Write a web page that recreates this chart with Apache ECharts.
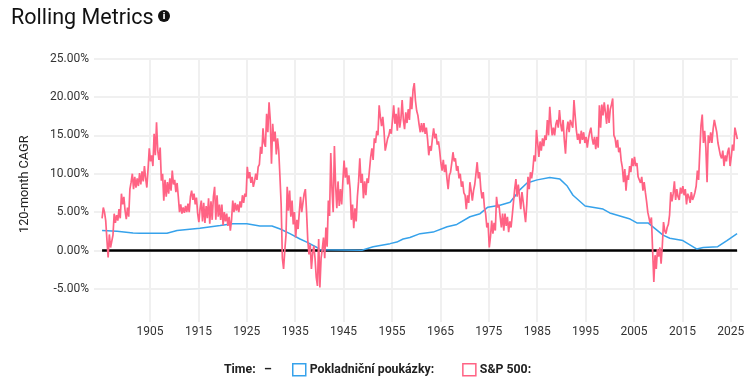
<!DOCTYPE html>
<html><head><meta charset="utf-8">
<style>html,body{margin:0;padding:0;background:#fff}#c{width:753px;height:383px}</style>
<script src="https://cdn.jsdelivr.net/npm/echarts@6/dist/echarts.min.js"></script>
</head><body><div id="c"></div>
<script>
const xTicks = [1905,1915,1925,1935,1945,1955,1965,1975,1985,1995,2005,2015,2025];
const yTicks = [-5,0,5,10,15,20,25];
const billName = 'Pokladniční poukázky:';
const spxName = 'S&P 500:';
const billYears = [1895.1,1898.2,1901.5,1902.9,1908.5,1910.6,1915.3,1919.5,1922.1,1925,1927.7,1930.2,1931.9,1933.9,1936,1937.4,1939.5,1940.1,1948.8,1951.1,1954.6,1956,1957.3,1958.7,1960.8,1963.5,1966.4,1968.4,1971.1,1973.2,1974.8,1977.3,1979.4,1980.8,1981.4,1982.9,1985,1987.6,1989.7,1991.2,1992.4,1994.9,1998.6,2000,2004.2,2005.6,2007.9,2011,2012.4,2015.1,2018,2019.3,2022.3,2024.2,2026.3];
const billValues = [2.6,2.5,2.3,2.25,2.25,2.6,2.9,3.25,3.5,3.5,3.2,3.2,2.8,2.2,1.5,1.1,0.4,0.1,0.03,0.5,0.9,1.1,1.5,1.7,2.2,2.4,3.1,3.4,4.4,4.8,5.65,5.9,6.3,7.4,7.9,8.8,9.2,9.5,9.3,8.4,7.2,5.8,5.4,4.9,4.1,3.6,3.6,2.0,1.6,1.3,0.2,0.4,0.5,1.3,2.2];
const spxStartYear = 1895.1;
const spxYearStep = 0.25;
const spxValues = [
4.2,5.6,5.0,3.9, 1.4,-0.9,2.1,0.4, 0.5,2.0,4.8,3.6, 4.6,3.9,5.4,4.2, 7.4,6.0,7.0,5.2,
4.1,5.6,4.4,8.0, 8.9,10.0,8.0,9.6, 8.2,9.4,8.4,10.1, 8.6,10.3,9.0,11.0, 9.4,8.2,10.6,13.3,
11.6,12.4,11.0,15.2, 12.4,16.7,13.0,11.8, 13.4,9.1,10.0,6.5, 9.2,7.0,8.9,7.4, 9.4,7.8,10.4,8.6,
9.2,7.6,8.8,7.0, 5.0,6.0,4.8,5.6, 4.9,5.8,5.0,6.1, 5.0,7.0,7.8,6.6, 7.4,6.0,6.9,4.8,
3.7,5.5,6.5,3.8, 6.2,3.6,5.8,4.2, 6.8,3.5,6.4,4.0, 7.0,8.3,4.0,7.2, 4.4,6.0,4.0,6.0,
3.3,5.0,3.8,4.8, 3.2,4.4,2.6,4.0, 6.5,5.0,6.2,5.2, 6.0,5.0,6.4,5.6, 7.2,6.2,7.4,7.0,
10.9,9.4,10.2,8.8, 9.6,8.3,9.0,10.0, 9.2,10.9,11.2,13.5, 12.6,15.9,14.0,13.5, 17.8,15.4,19.3,17.0,
11.3,16.5,14.2,15.5, 12.5,14.6,13.0,9.6, 6.0,-1.0,-2.4,0.0, 2.0,8.3,5.2,7.8, 4.4,6.5,3.4,5.0,
1.7,4.0,2.8,5.0, 7.0,5.0,6.2,7.4, 8.0,5.0,1.3,-0.5, 0.8,-2.4,-0.4,0.6, -1.0,-3.5,-4.6,1.5,
-4.8,-1.0,0.2,1.7, -1.0,3.0,0.5,6.5, 4.5,12.7,8.0,5.0, 13.6,8.5,5.5,9.0, 5.8,8.0,6.0,9.0,
11.7,9.5,10.8,8.6, 9.8,8.0,4.0,6.0, 2.9,5.5,3.8,7.0, 9.0,12.0,8.8,10.0, 6.8,9.0,7.2,9.4,
8.8,10.5,12.2,13.3, 11.8,14.6,14.0,15.6, 15.0,18.9,17.4,16.2, 17.4,15.6,13.0,13.8, 14.6,15.0,15.8,15.2,
17.0,18.9,16.5,17.8, 15.6,18.6,16.0,17.2, 19.6,17.0,15.8,18.0, 16.6,18.4,17.0,20.0, 18.4,20.9,21.8,19.5,
18.2,17.6,16.4,15.4, 16.6,15.4,16.6,15.2, 16.0,14.5,12.4,13.6, 13.0,14.6,15.9,14.6, 15.2,13.8,14.2,13.0,
11.4,10.4,11.8,10.2, 11.2,9.4,8.0,9.8, 10.2,11.4,12.8,11.6, 12.0,10.4,11.0,9.4, 10.0,8.3,9.0,7.5,
7.2,5.4,7.2,6.2, 8.9,7.8,6.5,7.8, 8.6,10.0,11.5,9.4, 10.2,8.0,6.8,7.6, 5.6,4.8,3.0,3.6,
0.4,1.8,3.9,2.2, 3.6,2.6,7.0,5.6, 6.0,4.4,3.0,4.8, 2.6,4.8,3.2,4.4, 2.4,3.8,3.0,4.6,
4.8,8.0,9.3,7.0, 8.6,7.0,5.4,7.6, 6.4,5.0,3.7,6.0, 9.6,8.0,10.2,9.4, 10.5,12.4,11.6,15.7,
14.0,12.2,14.2,13.0, 14.6,13.6,15.0,14.4, 17.0,15.0,18.7,16.5, 15.0,16.0,15.0,16.4, 17.0,16.0,18.3,16.5,
15.5,17.0,14.4,12.6, 15.6,16.8,15.4,17.0, 17.2,16.0,19.6,17.5, 15.6,14.4,15.2,13.9, 15.6,14.4,15.4,14.0,
14.8,13.4,14.6,15.4, 16.0,14.6,13.8,14.8, 13.2,14.8,13.4,18.9, 16.0,19.0,17.6,19.3, 18.0,16.5,19.0,16.6,
18.4,19.0,19.8,15.0, 14.6,13.4,14.4,12.8, 13.4,11.7,10.8,8.9, 10.6,7.8,9.8,9.2, 11.0,10.2,12.0,11.0,
12.2,11.0,11.4,9.6, 9.8,8.8,9.6,7.8, 8.9,7.6,6.4,5.0, 5.0,3.5,4.3,0.0, -4.1,-0.6,-2.4,0.2,
-0.8,0.4,-1.7,0.6, 3.7,2.6,2.2,3.0, 3.4,4.6,7.6,6.4, 7.4,9.0,6.6,8.0, 7.0,6.6,8.2,7.4,
8.4,7.2,8.0,6.0, 7.4,7.0,6.2,7.6, 6.6,7.0,7.6,8.4, 10.4,9.2,13.0,16.3, 17.7,14.0,15.6,13.4,
8.9,15.0,14.0,15.4, 14.0,15.8,17.0,16.8, 15.4,14.0,13.8,12.4, 12.0,13.0,11.0,12.4, 11.6,12.8,13.4,11.0,
12.2,13.8,13.0,16.0, 16.2,14.5
];
const zeroSpan = [1895.1,2026.3];

const labelFont = {fontFamily:'Roboto',fontSize:12,color:'#333'};
const chart = echarts.init(document.getElementById('c'),null,{renderer:'canvas'});
chart.setOption({
  animation:false,
  backgroundColor:'#fff',
  title:{text:'Rolling Metrics',left:6,top:3,textStyle:{fontFamily:'Roboto',fontWeight:400,fontSize:21.5,color:'#111'}},
  grid:{left:94,right:15,top:58.5,bottom:61},
  legend:{left:287,top:358,itemWidth:13,itemHeight:12,itemGap:28,icon:'rect',
    textStyle:{fontFamily:'Roboto',fontSize:12.3,fontWeight:'bold',color:'#222',padding:[0,0,0,-1]},
    data:[{name:billName,itemStyle:{color:'#fff',borderColor:'#36a2eb',borderWidth:1.5}},
          {name:spxName,itemStyle:{color:'#fff',borderColor:'#ff6384',borderWidth:1.5}}]},
  xAxis:{type:'value',min:1893.43,max:2026.49,
    axisLine:{show:false},axisTick:{show:false,customValues:xTicks},
    axisLabel:{...labelFont,customValues:xTicks,margin:4,formatter:v=>String(v)},
    splitLine:{show:true,lineStyle:{color:'#f0f0f0',width:2}}},
  yAxis:{type:'value',min:-9.3,max:25,name:'120-month CAGR',nameLocation:'middle',nameGap:63,
    nameTextStyle:{fontFamily:'Roboto',fontSize:12.7,color:'#222',padding:[0,0,0,12]},
    axisLine:{show:false},axisTick:{show:false,customValues:yTicks},
    axisLabel:{...labelFont,customValues:yTicks,margin:5,formatter:v=>v.toFixed(2)+'%'},
    splitLine:{show:true,lineStyle:{color:'#f0f0f0',width:2}}},
  series:[
    {name:'zero',type:'line',data:zeroSpan.map(y=>[y,0]),symbol:'none',silent:true,lineStyle:{color:'#000',width:2.4},z:2},
    {name:billName,type:'line',data:billYears.map((y,i)=>[y,billValues[i]]),symbol:'none',lineStyle:{color:'#36a2eb',width:1.5},itemStyle:{color:'#36a2eb'},z:3},
    {name:spxName,type:'line',data:spxValues.map((v,i)=>[spxStartYear+i*spxYearStep,v]),symbol:'none',lineStyle:{color:'#ff6384',width:1.7},itemStyle:{color:'#ff6384'},z:4}
  ],
  graphic:[
    {type:'circle',shape:{cx:164,cy:16,r:6},style:{fill:'#111'}},
    {type:'text',style:{x:164,y:16.5,text:'i',fill:'#fff',font:'bold 9px "DejaVu Sans"',align:'center',verticalAlign:'middle'}},
    {type:'text',style:{x:224,y:369.5,text:'Time:',fill:'#222',font:'bold 12.3px Roboto',verticalAlign:'middle'}},
    {type:'text',style:{x:264,y:369.5,text:'–',fill:'#222',font:'bold 12.3px Roboto',verticalAlign:'middle'}}
  ]
});
</script></body></html>
